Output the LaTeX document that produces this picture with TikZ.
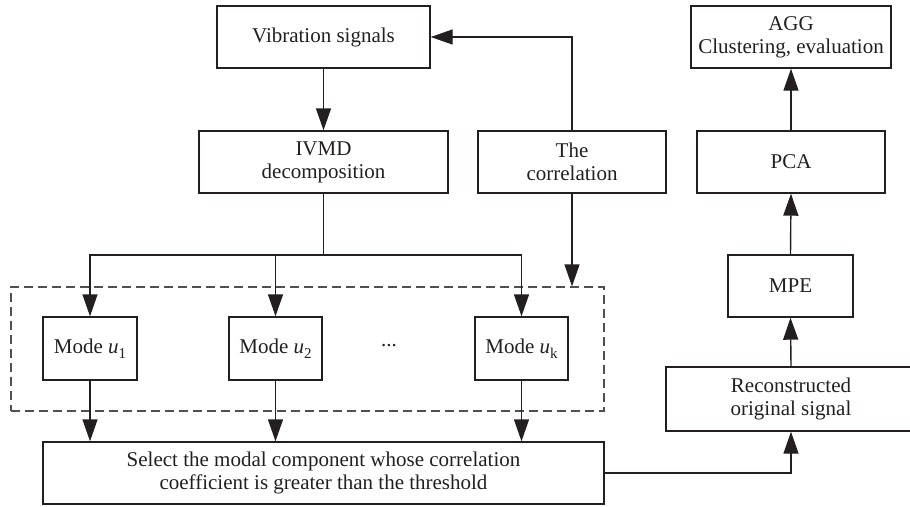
\documentclass[tikz,border=0pt]{standalone}
\usepackage{fontspec}
\setmainfont{Liberation Serif}
\usetikzlibrary{arrows.meta}
\definecolor{ink}{RGB}{35,31,32}
\definecolor{dashc}{RGB}{80,80,80}
\newcommand{\modeu}[1]{Mode \textit{u}\raisebox{-0.22em}{\fontsize{15}{15}\selectfont #1}}
\begin{document}
\begin{tikzpicture}[x=1pt,y=-1pt,
  box/.style={draw=ink, line width=1.4pt, inner sep=0pt, align=center, text=ink,
    font=\fontsize{21}{23}\selectfont, minimum height=62pt},
  dashbox/.style={draw=dashc, line width=1.3pt, dash pattern=on 9pt off 5pt, inner sep=0pt},
  arr/.style={draw=ink, line width=1.4pt, arrows={-Triangle[length=22pt,width=15pt]}},
  ln/.style={draw=ink, line width=1.4pt}]
\useasboundingbox (0,0) rectangle (910,506);

\node[box, minimum width=213pt] (vib) at (323.5,37) {Vibration signals};
\node[box, minimum width=249pt] (ivmd) at (323.5,162) {IVMD\\decomposition};
\node[box, minimum width=188pt] (corr) at (572,162) {The\\correlation};
\node[box, minimum width=200pt] (agg) at (791,37) {AGG\\Clustering, evaluation};
\node[box, minimum width=188pt] (pca) at (791,162) {PCA};
\node[box, minimum width=125pt] (mpe) at (790.5,286) {MPE};
\node[box, minimum width=250pt, minimum height=64pt] (rec) at (791,399) {Reconstructed\\original signal};

\node[dashbox, minimum width=593pt, minimum height=124pt] (grp) at (307.5,349) {};
\node[box, minimum width=94pt, minimum height=63pt] (m1) at (90,348.5) {\modeu{1}};
\node[box, minimum width=93pt, minimum height=63pt] (m2) at (275.5,348.5) {\modeu{2}};
\node[box, minimum width=93pt, minimum height=63pt] (mk) at (521.5,348.5) {\modeu{k}};
\node[text=ink, font=\fontsize{21}{23}\selectfont] (dots) at (389,346) {...};

\node[box, minimum width=561pt] (sel) at (323.5,473) {Select the modal component whose correlation\\coefficient is greater than the threshold};

\coordinate (b) at (323.5,255);

\draw[arr] (vib.south) -- (ivmd.north);
\draw[ln] (ivmd.south) -- (b);
\draw[arr] (b) -| (m1.north);
\draw[arr] (b) -| (mk.north);
\draw[arr] (m2.north |- b) -- (m2.north);
\draw[arr] (corr.north) |- (vib.east);
\draw[arr] (corr.south) -- (corr.south |- grp.north);
\draw[arr] (m1.south) -- (m1.south |- sel.north);
\draw[arr] (m2.south) -- (m2.south |- sel.north);
\draw[arr] (mk.south) -- (mk.south |- sel.north);
\draw[arr] (sel.east) -| (rec.south);
\draw[arr] (rec.north) -- (mpe.south);
\draw[arr] (mpe.north) -- (pca.south);
\draw[arr] (pca.north) -- (agg.south);
\end{tikzpicture}
\end{document}
